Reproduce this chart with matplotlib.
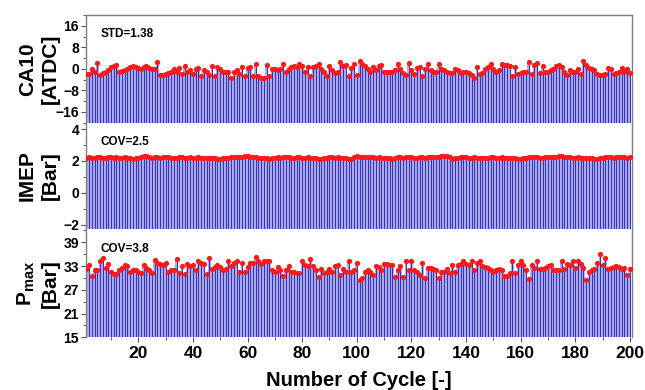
import numpy as np
import matplotlib
matplotlib.use("Agg")
from matplotlib import pyplot as plt
from matplotlib.ticker import AutoMinorLocator

plt.rcParams['font.family'] = ['Liberation Sans', 'DejaVu Sans']
plt.rcParams['font.weight'] = 'bold'
plt.rcParams['mathtext.fontset'] = 'custom'
plt.rcParams['mathtext.rm'] = 'Liberation Sans:bold'
plt.rcParams['mathtext.bf'] = 'Liberation Sans:bold'

# ---- data (cycles 1..200) ----
ca10 = [-1.9, -1.9, -0.2, -1.2, 2.2, -2.2, -1.5, -1.2, -0.6, 0.6,
        1.2, 1.5, -1.2, -0.9, -0.4, -0.2, 0.6, 1.2, 0.6, 0.4,
        0, 0.6, 0.9, 0.2, -0.2, 0, 2.7, -2.2, -2.2, -1.9,
        -1.5, -1.0, 0, -1.2, 0.2, -1.9, 1.0, -1.0, -0.6, -1.9,
        0, 0.2, -2.5, -0.6, -1.2, -2.2, 1.0, -2.7, 0.6, 0,
        -1.2, -1.2, -1.0, -3.5, -1.2, -0.6, -1.9, 0.6, -2.5, 0.2,
        0.6, -2.5, 1.9, -2.5, -3.5, -3.5, 1.5,
        -2.7, -0.2, -0.2, -0.6, -0.2, 1.9, -1.2, -0.2, 0.6, 1.0,
        0.6, 1.9, 1.0, -1.0, 0.6, -2.5, 0.6, 1.2, 1.9, 0,
        -1.0, -2.7, 1.2, -0.6, -1.5, -1.2, 2.5, 1.0, 1.5, -2.7,
        0.2, 1.9, -2.2, 3.1, 1.9, 1.0, 0, -1.0, 0.6, -0.6,
        1.2, 1.5, -1.0, -1.2, -1.2, -1.0, -0.6, 1.9, -0.2, -1.5,
        -2.2, 2.2, -0.6, -1.9, 0.2, 0.6, -2.7, 0, 1.9, -0.6,
        -1.2, -1.0, 1.9, -0.2, -0.6, -1.2, -1.5,
        -1.5, -0.2, -0.6, -1.5, -1.2, -1.2, -1.5, -2.2, -3.5, 0.6,
        -1.9, -1.5, -0.2, 0.6, 1.9, -0.2, -1.2, -0.6, 1.9, 1.5,
        1.5, 1.2, -2.5, 0.6, -1.9, -1.5, -1.2, -1.0, 2.5, -1.9,
        1.5, 2.2, -1.5, 1.2, -1.2, -1.0, -0.4, 0, 1.0, 1.5,
        0.6, -1.2, -2.2, -0.6, -1.0, -1.2, -0.2, -1.9, 3.1, 1.5,
        0.2, 0, -0.6, -1.9, -2.2, -2.2, -1.9, 0.2, -0.2, -1.9,
        -1.5, -1.0, 0.2, -1.2, -0.2, -1.5]

imep = [2.20, 2.22, 2.18, 2.21, 2.23, 2.22, 2.19, 2.21, 2.24, 2.22,
        2.20, 2.23, 2.21, 2.19, 2.22, 2.20, 2.17, 2.14, 2.16, 2.20,
        2.25, 2.28, 2.30, 2.24, 2.21, 2.23, 2.22, 2.20, 2.23, 2.25,
        2.22, 2.20, 2.21, 2.19, 2.22, 2.24, 2.21, 2.20, 2.22, 2.19,
        2.21, 2.22, 2.20, 2.18, 2.21, 2.19, 2.17, 2.16, 2.14, 2.12,
        2.16, 2.19, 2.21, 2.22, 2.24, 2.23, 2.25, 2.26, 2.28, 2.30,
        2.26, 2.23, 2.22, 2.20, 2.21, 2.18, 2.15, 2.13, 2.17, 2.20,
        2.22, 2.21, 2.23, 2.24, 2.22, 2.20, 2.21, 2.23, 2.22, 2.19,
        2.21, 2.22, 2.20, 2.18, 2.16, 2.14, 2.13, 2.17, 2.20, 2.22,
        2.23, 2.21, 2.22, 2.20, 2.18, 2.16, 2.14, 2.11, 2.22, 2.31,
        2.27, 2.24, 2.23, 2.22, 2.24, 2.23, 2.21, 2.22, 2.20, 2.19,
        2.17, 2.15, 2.12, 2.18, 2.22, 2.23, 2.21, 2.22, 2.24, 2.22,
        2.21, 2.20, 2.22, 2.23, 2.21, 2.22, 2.24, 2.25, 2.23, 2.26,
        2.28, 2.30, 2.32, 2.27, 2.12, 2.18, 2.21, 2.23, 2.22, 2.24,
        2.21, 2.20, 2.22, 2.19, 2.18, 2.15, 2.18, 2.21, 2.23, 2.22,
        2.20, 2.21, 2.22, 2.20, 2.18, 2.19, 2.17, 2.16, 2.14, 2.12,
        2.17, 2.21, 2.24, 2.25, 2.23, 2.22, 2.21, 2.20, 2.22, 2.23,
        2.24, 2.25, 2.26, 2.28, 2.29, 2.26, 2.24, 2.22, 2.21, 2.20,
        2.22, 2.21, 2.20, 2.18, 2.16, 2.15, 2.14, 2.13, 2.17, 2.20,
        2.22, 2.23, 2.22, 2.21, 2.23, 2.22, 2.24, 2.22, 2.21, 2.23]

pmax = [32.2, 33.3, 30.6, 31.9, 32.1, 34.2, 35.0, 32.5, 33.6, 31.6,
        31.1, 31.1, 32.1, 32.5, 33.3, 33.1, 31.6, 32.1, 31.9, 31.6,
        31.2, 33.3, 32.5, 32.1, 31.2, 34.6, 33.8, 33.6, 33.3, 33.8,
        31.4, 31.9, 32.1, 34.8, 31.2, 33.1, 31.1, 33.6, 32.9, 33.3,
        31.9, 34.4, 33.9, 33.6, 31.1, 35.0, 32.2, 32.7, 33.3, 32.7,
        32.1, 32.2, 34.2, 33.1, 33.8, 34.2, 31.4, 33.9, 31.6, 32.7,
        33.8, 33.9, 35.4, 34.2, 33.6, 34.4, 34.2,
        34.2, 31.9, 31.6, 32.7, 31.9, 30.6, 32.1, 33.1,
        31.6, 31.4, 31.2, 31.2, 34.4, 33.3, 33.1, 34.8, 32.9, 31.9,
        30.2, 32.2, 31.2, 31.6, 32.2, 31.6, 33.1, 33.3, 30.8, 32.2,
        31.6, 34.4, 31.6, 32.1, 33.8, 29.5, 30.0, 31.6, 31.9, 31.6,
        30.8, 32.9, 32.7, 31.9, 33.6, 33.6, 33.3, 33.3,
        30.2, 32.1, 33.1, 30.2, 34.2, 32.1, 34.2, 32.1, 31.6, 30.8,
        33.9, 30.0, 32.5, 32.5, 32.2, 31.9, 30.0, 31.6, 31.6, 32.2,
        31.2,
        33.3, 31.4, 33.3, 33.6, 34.2, 33.6, 33.2, 34.2, 32.1,
        33.8, 34.4, 33.1, 32.7, 32.5, 31.9, 31.6, 31.9, 32.2, 31.9,
        30.6, 30.6, 31.2, 34.4, 31.2, 33.3, 34.4, 33.3, 32.1, 29.7,
        33.3, 32.5, 34.2, 32.2, 32.2, 32.5, 32.9, 33.3, 32.1,
        31.9, 32.1, 34.4, 32.2, 33.6, 33.3, 34.4, 32.5, 34.2,
        33.6, 32.5, 29.4, 31.4, 31.9, 32.2, 33.8, 36.1, 33.3, 35.0,
        32.2, 32.5, 32.7, 32.9, 32.7, 32.2, 32.5, 30.8, 32.2]

notes = ['STD=1.38', 'COV=2.5', 'COV=3.8']
ylabels = ['CA10\n[ATDC]', 'IMEP\n[Bar]', r'$\mathbf{P_{max}}$' + '\n[Bar]']
yticks = [[-16, -8, 0, 8, 16], [-2, 0, 2, 4], [15, 21, 27, 33, 39]]
ylims = [(-20, 20), (-2.3, 4.4), (15, 42.3)]
xticks = [20, 40, 60, 80, 100, 120, 140, 160, 180, 200]

fill_c = '#aaaaec'
stem_c = '#2626b8'
dot_c = '#ff1a1a'
spine_c = '#7f7f7f'

fig = plt.figure(figsize=(6.45, 3.90), dpi=100)
boxes = [[0.1333, 0.6854, 0.8467, 0.2761],
         [0.1333, 0.4121, 0.8467, 0.2733],
         [0.1333, 0.1351, 0.8467, 0.2770]]

series = [ca10, imep, pmax]
for i, vals in enumerate(series):
    vals = np.array(vals)
    x = np.arange(1, len(vals) + 1)
    ax = fig.add_axes(boxes[i])
    lo = ylims[i][0]
    ax.bar(x, vals - lo, bottom=lo, width=1.0, color=fill_c, linewidth=0, zorder=1)
    ax.vlines(x, lo, vals, color=stem_c, lw=0.65, zorder=2)
    ax.plot(x, vals, 'o', color=dot_c, ms=3.8, mec='none', zorder=3)
    ax.set_xlim(0.85, 200.8)
    ax.set_ylim(*ylims[i])
    ax.set_yticks(yticks[i])
    ax.yaxis.set_minor_locator(AutoMinorLocator(2))
    ax.set_xticks(xticks)
    ax.tick_params(axis='y', which='major', direction='out', length=3.5, width=0.8,
                   color='#555555', labelsize=10, pad=1.5)
    ax.tick_params(axis='y', which='minor', direction='out', length=2, width=0.7,
                   color='#555555')
    for s in ax.spines.values():
        s.set_color(spine_c)
        s.set_linewidth(1.0)
    ax.spines['bottom'].set_visible(False)
    if i > 0:
        ax.spines['top'].set_visible(False)
    if i < 2:
        ax.tick_params(axis='x', which='both', bottom=False, labelbottom=False)
    else:
        ax.xaxis.set_minor_locator(AutoMinorLocator(2))
        ax.tick_params(axis='x', which='major', direction='out', length=3.5, width=0.8,
                       color='#555555', labelsize=12.5, pad=3)
        ax.tick_params(axis='x', which='minor', direction='out', length=2, width=0.7,
                       color='#555555')
        ax.set_xlabel('Number of Cycle [-]', fontsize=14.5, fontweight='bold', labelpad=7)
    ax.set_ylabel(ylabels[i], fontsize=15, fontweight='bold', linespacing=1.3)
    ax.yaxis.set_label_coords(-0.047, 0.5)
    ax.text(0.026, 0.82, notes[i], transform=ax.transAxes, fontsize=8.5,
            fontweight='bold', va='center', ha='left')

plt.savefig('out.png', dpi=100)
